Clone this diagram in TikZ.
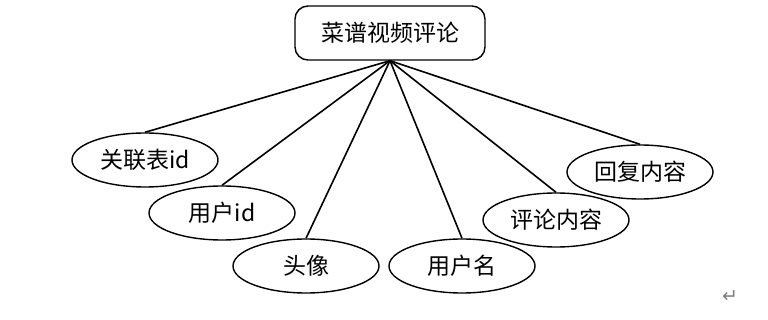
\documentclass[tikz,border=0pt]{standalone}
\usepackage{fontspec}
\newfontfamily\cjk{Noto Sans CJK SC}
\newfontfamily\symfont{DejaVu Sans}
\usetikzlibrary{shapes.geometric}

\begin{document}
\begin{tikzpicture}[x=1pt, y=-1pt,
  entbox/.style={draw, line width=1.4pt, rounded corners=13pt,
    minimum width=190pt, minimum height=54pt, inner sep=0pt,
    font=\cjk\fontsize{23}{23}\selectfont},
  attr/.style={draw, ellipse, line width=1.4pt, minimum width=146pt,
    minimum height=54pt, inner sep=0pt,
    font=\cjk\fontsize{23}{23}\selectfont},
  link/.style={line width=1.6pt}]
\useasboundingbox (0,0) rectangle (768,320);

\node[entbox] (root) at (390,33) {菜谱视频评论};

\node[attr] (relid) at (145,160) {关联表id};
\node[attr] (userid) at (222,213) {用户id};
\node[attr] (avatar) at (306,266) {头像};
\node[attr] (uname) at (462,266) {用户名};
\node[attr] (ctext) at (556,220) {评论内容};
\node[attr] (reply) at (640,172) {回复内容};

\foreach \a in {relid, userid, avatar, uname, ctext, reply}
  \draw[link] (root.south) -- (\a.north);

\node[text=gray, font=\symfont\fontsize{19}{19}\selectfont] (mark) at (730,297) {↵};

\end{tikzpicture}
\end{document}
